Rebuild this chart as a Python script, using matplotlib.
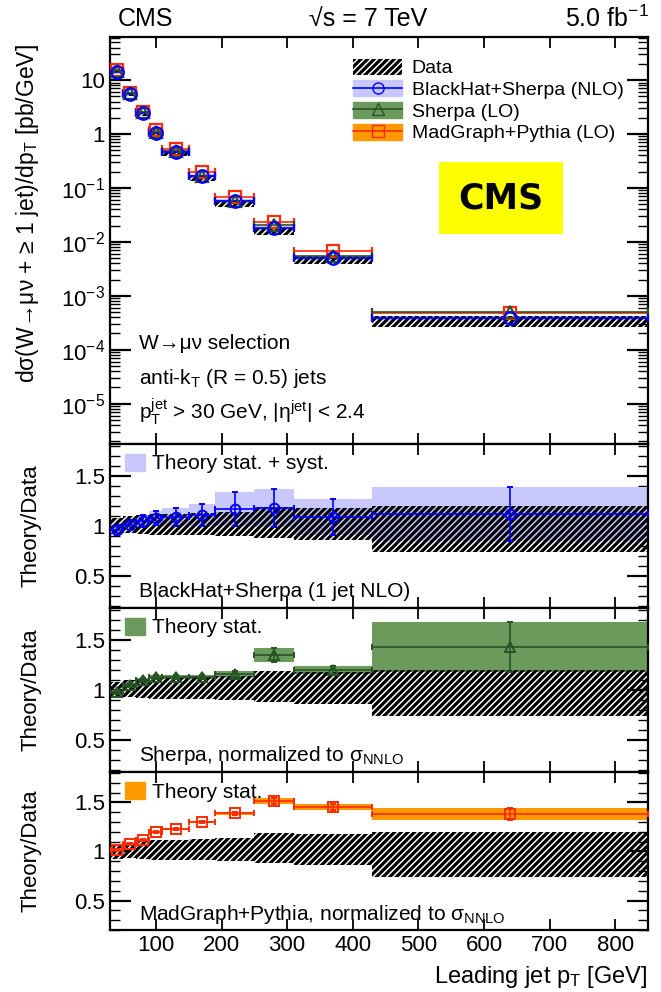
import numpy as np
import matplotlib
matplotlib.use("Agg")
import matplotlib.pyplot as plt
from matplotlib.patches import Patch
from matplotlib.lines import Line2D

plt.rcParams['font.family'] = ['Liberation Sans', 'DejaVu Sans']
plt.rcParams['mathtext.fontset'] = 'custom'
plt.rcParams['mathtext.rm'] = 'Liberation Sans'
plt.rcParams['mathtext.it'] = 'Liberation Sans:italic'
plt.rcParams['mathtext.sf'] = 'Liberation Sans'
plt.rcParams['hatch.linewidth'] = 2.3
plt.rcParams['axes.linewidth'] = 1.6

# leading jet pT bins [GeV]
edges = [30, 50, 70, 90, 110, 150, 190, 250, 310, 430, 850]
centers = [40, 60, 80, 100, 130, 170, 220, 280, 370, 640]

# measured cross section dsigma/dpT [pb/GeV]
data_xs = [15.0, 5.4, 2.3, 0.98, 0.43, 0.15, 0.049, 0.0153, 0.0046, 0.00035]
# data uncertainty band (relative, lower / upper)
data_lo = [0.92, 0.93, 0.92, 0.91, 0.91, 0.91, 0.90, 0.88, 0.86, 0.74]
data_hi = [1.08, 1.10, 1.11, 1.12, 1.12, 1.13, 1.14, 1.19, 1.18, 1.20]

# theory / data ratios and their uncertainties
bh_ratio = [0.96, 1.01, 1.05, 1.08, 1.09, 1.11, 1.17, 1.18, 1.09, 1.12]
bh_unc = [0.05, 0.05, 0.06, 0.07, 0.09, 0.11, 0.17, 0.19, 0.18, 0.27]
sh_ratio = [0.98, 1.05, 1.10, 1.13, 1.13, 1.13, 1.16, 1.35, 1.20, 1.43]
sh_unc = [0.02, 0.02, 0.02, 0.02, 0.02, 0.02, 0.03, 0.07, 0.04, 0.25]
mg_ratio = [1.02, 1.08, 1.12, 1.20, 1.23, 1.30, 1.39, 1.51, 1.45, 1.38]
mg_unc = [0.01, 0.01, 0.01, 0.01, 0.01, 0.01, 0.015, 0.03, 0.03, 0.06]

edges = np.array(edges)
x = np.array(centers)
xlo = x - edges[:-1]
xhi = edges[1:] - x
widths = np.diff(edges)
data_xs = np.array(data_xs)
data_lo = np.array(data_lo)
data_hi = np.array(data_hi)

c_blue, c_lblue = '#0000ff', '#c8c8ff'
c_dgreen, c_green = '#265426', '#6b9a5c'
c_red, c_orange = '#ff2a00', '#ff9900'

theories = [
    (np.array(bh_ratio), np.array(bh_unc), c_blue, c_lblue, 'o'),
    (np.array(sh_ratio), np.array(sh_unc), c_dgreen, c_green, '^'),
    (np.array(mg_ratio), np.array(mg_unc), c_red, c_orange, 's'),
]


def data_band(ax, bottom, height, z=3):
    ax.bar(x, height, bottom=bottom, width=widths, facecolor='none',
           edgecolor='black', lw=0, hatch='/////', zorder=z)


fig = plt.figure(figsize=(6.61, 9.92), dpi=100)
L, W = 110 / 661, 538 / 661
ax0 = fig.add_axes([L, 1 - 444 / 992, W, 407 / 992])
ax1 = fig.add_axes([L, 1 - 608 / 992, W, 164 / 992])
ax2 = fig.add_axes([L, 1 - 772 / 992, W, 164 / 992])
ax3 = fig.add_axes([L, 1 - 930 / 992, W, 158 / 992])

# ---- top panel: spectrum
r0 = theories[0][0]
ax0.bar(x, data_xs * r0 * 0.16, bottom=data_xs * r0 * 0.92, width=widths,
        color=c_lblue, lw=0, zorder=2)
data_band(ax0, data_xs * data_lo, data_xs * (data_hi - data_lo))
for r, u, cl, cb, m in theories[::-1]:
    val = data_xs * r
    ax0.errorbar(x, val, xerr=[xlo, xhi], fmt=m, color=cl, mfc='none', mec=cl,
                 ms=9, mew=1.6, lw=1.2, capsize=3, zorder=4)

ax0.set_yscale('log')
ax0.set_ylim(10 ** -5.75, 10 ** 1.8)
ax0.set_yticks([10, 1, 0.1, 0.01, 1e-3, 1e-4, 1e-5])
ax0.set_yticklabels(['10', '1', r'10$^{-1}$', r'10$^{-2}$', r'10$^{-3}$',
                     r'10$^{-4}$', r'10$^{-5}$'])
ax0.set_ylabel('dσ(W→μν + ≥ 1 jet)/dp$_{\\rm T}$ [pb/GeV]', fontsize=16.5)
ax0.yaxis.set_label_coords(-0.128, 0.565)

h_data = Patch(facecolor='white', edgecolor='black', lw=0, hatch='/////')
handles = [h_data]
for r, u, cl, cb, m in theories:
    handles.append((Patch(color=cb), Line2D([], [], color=cl, lw=1.2, marker=m,
                                            mfc='none', mec=cl, ms=8)))
ax0.legend(handles, ['Data', 'BlackHat+Sherpa (NLO)', 'Sherpa (LO)', 'MadGraph+Pythia (LO)'],
           loc='upper left', bbox_to_anchor=(0.42, 0.99), frameon=False, fontsize=14,
           handlelength=2.5, handleheight=0.9, handletextpad=0.5, labelspacing=0.15)

ax0.text(0.727, 0.604, 'CMS', transform=ax0.transAxes, ha='center', va='center',
         fontsize=25, fontweight='bold', family='DejaVu Sans',
         bbox=dict(boxstyle='square,pad=0.55', facecolor='#ffff00', edgecolor='none'))

ax0.text(0.054, 0.248, 'W→μν selection', transform=ax0.transAxes,
         fontsize=15, va='center')
ax0.text(0.054, 0.162, r'anti-k$_{\rm T}$ (R = 0.5) jets', transform=ax0.transAxes,
         fontsize=15, va='center')
ax0.text(0.054, 0.079, r'p$_{\rm T}^{\rm jet}$ > 30 GeV, |η$^{\rm jet}$| < 2.4',
         transform=ax0.transAxes, fontsize=15, va='center')

fig.text(118 / 661, 1 - 19 / 992, 'CMS', fontsize=18, va='center', ha='left')
fig.text(368 / 661, 1 - 19 / 992, '√s = 7 TeV', fontsize=18, va='center', ha='center')
fig.text(649 / 661, 1 - 19 / 992, '5.0 fb$^{-1}$', fontsize=18, va='center', ha='right')

# ---- ratio panels
panel_info = [
    (ax1, theories[0], 'Theory stat. + syst.', 'BlackHat+Sherpa (1 jet NLO)', (0.18, 1.82)),
    (ax2, theories[1], 'Theory stat.', 'Sherpa, normalized to σ$_{\\rm NNLO}$', (0.18, 1.82)),
    (ax3, theories[2], 'Theory stat.', 'MadGraph+Pythia, normalized to σ$_{\\rm NNLO}$', (0.23, 1.81)),
]
for ax, (r, u, cl, cb, m), band_lab, name, ylim in panel_info:
    ax.bar(x, 2 * u, bottom=r - u, width=widths, color=cb, lw=0, zorder=2)
    data_band(ax, data_lo, data_hi - data_lo)
    ax.errorbar(x, r, xerr=[xlo, xhi], yerr=u, fmt=m, color=cl, mfc='none', mec=cl,
                ms=7, mew=1.4, lw=1.2, capsize=2, zorder=4)
    ax.set_ylim(*ylim)
    ax.set_yticks([0.5, 1, 1.5])
    ax.set_yticklabels(['0.5', '1', '1.5'])
    ax.set_yticks(np.arange(0.2, 1.85, 0.1), minor=True)
    ax.set_ylabel('Theory/Data', fontsize=16)
    ax.yaxis.set_label_coords(-0.128, 0.5)
    ax.legend([Patch(color=cb)], [band_lab], loc='upper left', bbox_to_anchor=(0.0, 1.03),
              frameon=False, fontsize=15, handlelength=1.0, handleheight=0.9,
              handletextpad=0.3, borderaxespad=0.3)
    ax.text(0.054, 0.10, name, transform=ax.transAxes, fontsize=15, va='center')

xticks = [100, 200, 300, 400, 500, 600, 700, 800]
for ax in [ax0, ax1, ax2, ax3]:
    ax.set_xlim(30, 850)
    ax.set_xticks(xticks)
    ax.tick_params(axis='both', which='both', direction='in', top=True, right=True,
                   labelsize=16)
    ax.tick_params(axis='x', which='major', length=8, width=1.3)
    ax.tick_params(axis='y', which='major', length=15, width=1.6)
    ax.tick_params(axis='y', which='minor', length=7, width=1.0)
    if ax is not ax3:
        ax.tick_params(axis='x', labelbottom=False)

ax3.set_xlabel(r'Leading jet p$_{\rm T}$ [GeV]', fontsize=17, loc='right', labelpad=6)

fig.savefig('out.png', dpi=100)
